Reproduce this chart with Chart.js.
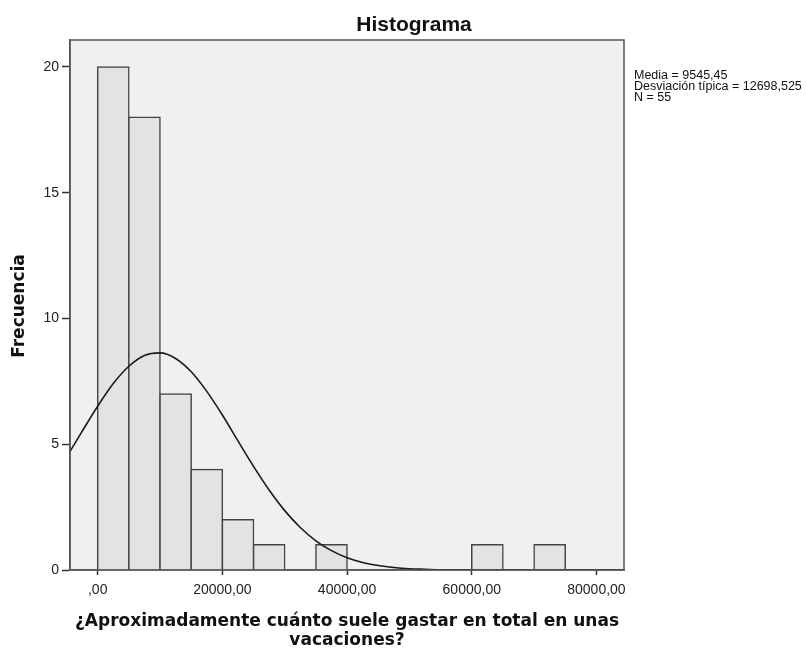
<!DOCTYPE html>
<html>
<head>
<meta charset="utf-8">
<title>Histograma</title>
<script src="https://cdn.jsdelivr.net/npm/chart.js@4.4.1/dist/chart.umd.min.js"></script>
<style>
  html, body { margin: 0; padding: 0; background: #ffffff; }
  #wrap { width: 806px; height: 649px; }
</style>
</head>
<body>
<div id="wrap"><canvas id="hist" width="806" height="649"></canvas></div>
<script>
// histogram bins (width 5000), only non-empty ones
const binCenters = [2500, 7500, 12500, 17500, 22500, 27500, 37500, 62500, 72500];
const frequencies = [20, 18, 7, 4, 2, 1, 1, 1, 1];

// normal curve
const curveX = [-5000, -2500, 0, 2500, 5000, 7500, 10000, 12500, 15000, 17500, 20000,
  22500, 25000, 27500, 30000, 32500, 35000, 37500, 40000, 42500, 45000, 47500,
  50000, 52500, 55000, 57500, 60000, 62500, 65000, 85000];
const curveY = [4.48, 5.51, 6.51, 7.41, 8.10, 8.53, 8.63, 8.41, 7.88, 7.10, 6.16,
  5.13, 4.12, 3.18, 2.36, 1.69, 1.16, 0.77, 0.49, 0.30, 0.18, 0.10,
  0.05, 0.03, 0.01, 0.01, 0, 0, 0, 0];

const xTicks = [0, 20000, 40000, 60000, 80000];
const xTickLabels = [',00', '20000,00', '40000,00', '60000,00', '80000,00'];
const yTicks = [0, 5, 10, 15, 20];

const statLines = ['Media = 9545,45', 'Desviación típica = 12698,525', 'N = 55'];
const chartTitle = 'Histograma';
const xTitle = ['¿Aproximadamente cuánto suele gastar en total en unas', 'vacaciones?'];
const yTitle = 'Frecuencia';

const plotBg = {
  id: 'plotBg',
  beforeDraw(chart) {
    const { ctx, chartArea: a } = chart;
    ctx.save();
    ctx.fillStyle = '#f0f0f0';
    ctx.fillRect(a.left, a.top, a.right - a.left, a.bottom - a.top);
    ctx.restore();
  }
};

const frameAndText = {
  id: 'frameAndText',
  afterDraw(chart) {
    const { ctx, chartArea: a } = chart;
    ctx.save();
    ctx.strokeStyle = '#555555';
    ctx.lineWidth = 1.5;
    ctx.strokeRect(a.left, a.top, a.right - a.left, a.bottom - a.top);

    ctx.fillStyle = '#111111';
    ctx.textBaseline = 'alphabetic';

    ctx.font = 'bold 21px "Liberation Sans", Arial, sans-serif';
    ctx.textAlign = 'center';
    ctx.fillText(chartTitle, 414, 30.5);

    ctx.font = '12.5px "Liberation Sans", Arial, sans-serif';
    ctx.textAlign = 'left';
    statLines.forEach((t, i) => ctx.fillText(t, 634, 79 + i * 11));

    ctx.font = 'bold 17px "DejaVu Sans", Verdana, sans-serif';
    ctx.textAlign = 'center';
    const cx = (a.left + a.right) / 2;
    ctx.fillText(xTitle[0], cx, 626);
    ctx.fillText(xTitle[1], cx, 645);

    ctx.translate(23.5, 306);
    ctx.rotate(-Math.PI / 2);
    ctx.fillText(yTitle, 0, 0);
    ctx.restore();
  }
};

const barData = binCenters.map((x, i) => ({ x: x, y: frequencies[i] }));
const curveData = curveX.map((x, i) => ({ x: x, y: curveY[i] }));

new Chart(document.getElementById('hist').getContext('2d'), {
  type: 'bar',
  data: {
    datasets: [{
      type: 'line',
      data: curveData,
      borderColor: '#1a1a1a',
      borderWidth: 1.6,
      pointRadius: 0,
      fill: false,
      cubicInterpolationMode: 'monotone',
      order: 0
    }, {
      type: 'bar',
      data: barData,
      backgroundColor: '#e3e3e3',
      borderColor: '#444444',
      borderWidth: 1.5,
      inflateAmount: 0.75,
      barPercentage: 1,
      categoryPercentage: 1,
      order: 1
    }]
  },
  options: {
    responsive: false,
    animation: false,
    layout: { padding: { left: 0, top: 40, right: 182, bottom: 0 } },
    plugins: { legend: { display: false }, tooltip: { enabled: false } },
    scales: {
      x: {
        type: 'linear',
        min: -4440,
        max: 84420,
        offset: false,
        afterFit: s => { s.height = 79; },
        afterBuildTicks: s => { s.ticks = xTicks.map(v => ({ value: v })); },
        grid: { offset: false, drawOnChartArea: false, drawTicks: true, tickLength: 5, tickColor: '#333333', tickWidth: 1.5 },
        border: { display: true, color: '#555555', width: 1.5 },
        ticks: {
          padding: 7,
          maxRotation: 0,
          color: '#222222',
          font: { family: '"Liberation Sans", Arial, sans-serif', size: 14 },
          callback: v => xTickLabels[xTicks.indexOf(v)]
        }
      },
      y: {
        min: 0,
        max: 21.07,
        afterFit: s => { s.width = 70; },
        afterBuildTicks: s => { s.ticks = yTicks.map(v => ({ value: v })); },
        grid: { drawOnChartArea: false, drawTicks: true, tickLength: 8, tickColor: '#333333', tickWidth: 1.5 },
        border: { display: true, color: '#555555', width: 1.5 },
        ticks: {
          padding: 3,
          color: '#222222',
          font: { family: '"Liberation Sans", Arial, sans-serif', size: 14 }
        }
      }
    }
  },
  plugins: [plotBg, frameAndText]
});
</script>
</body>
</html>
